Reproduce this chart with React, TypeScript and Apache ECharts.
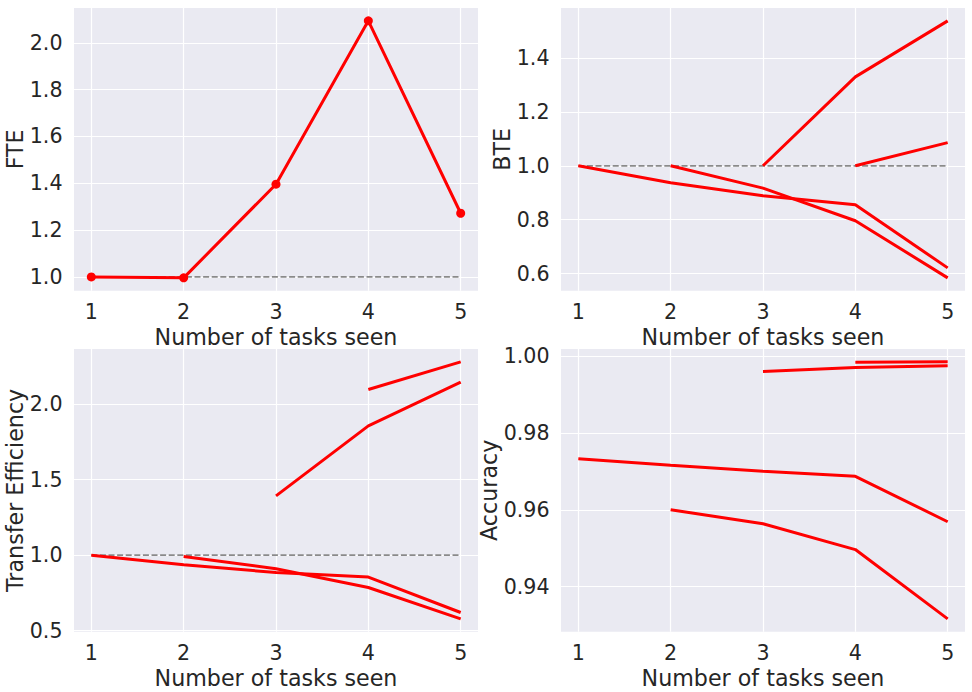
import React, { useEffect, useRef } from "react";
import * as echarts from "echarts";

const tasks = [1, 2, 3, 4, 5];
const fte = [1.0, 0.996, 1.396, 2.094, 1.272];
const bte = [
  [1.0, 0.937, 0.889, 0.855, 0.621],
  [1.0, 0.917, 0.796, 0.584],
  [1.0, 1.33, 1.538],
  [1.0, 1.086],
];
const te = [
  [1.0, 0.936, 0.885, 0.855, 0.62],
  [0.991, 0.91, 0.786, 0.578],
  [1.393, 1.857, 2.147],
  [2.098, 2.281],
];
const acc = [
  [0.97327, 0.97154, 0.96999, 0.9687, 0.95688],
  [0.96, 0.95638, 0.94965, 0.93164],
  [0.99594, 0.99698, 0.99741],
  [0.99837, 0.99845],
];
const fteTicks = [1.0, 1.2, 1.4, 1.6, 1.8, 2.0];
const bteTicks = [0.6, 0.8, 1.0, 1.2, 1.4];
const teTicks = [0.5, 1.0, 1.5, 2.0];
const accTicks = [0.94, 0.96, 0.98, 1.0];
const baselineValue = 1.0;
const xTitle = "Number of tasks seen";
const yTitles = ["FTE", "BTE", "Transfer Efficiency", "Accuracy"];

const TEXT = "#262626";
const FONT = "DejaVu Sans";
const TICK_FS = 20.6;
const NAME_FS = 22.2;

function toPairs(vals: number[], start: number) {
  return vals.map((v, i) => [tasks[start + i], v]);
}

export default function App() {
  const ref = useRef<HTMLDivElement>(null);
  useEffect(() => {
    document.body.style.margin = "0";
    const chart = echarts.init(ref.current!, undefined, { renderer: "svg" });

    const panels = [
      { groups: [fte], ticks: fteTicks, dec: 1, base: true, markers: true },
      { groups: bte, ticks: bteTicks, dec: 1, base: true, markers: false },
      { groups: te, ticks: teTicks, dec: 1, base: true, markers: false },
      { groups: acc, ticks: accTicks, dec: 2, base: false, markers: false },
    ];
    const grids = [
      { left: 74, top: 8, width: 404, height: 282.7 },
      { left: 561, top: 8, width: 404, height: 282.7 },
      { left: 74, top: 349, width: 404, height: 282.7 },
      { left: 561, top: 349, width: 404, height: 282.7 },
    ];
    const yNameGap = [43, 43, 43, 60];

    const xAxis: any[] = [];
    const yAxis: any[] = [];
    const series: any[] = [];

    panels.forEach((p, i) => {
      const all = p.groups.flat();
      const lo = Math.min(...all, p.base ? baselineValue : Infinity);
      const hi = Math.max(...all, p.base ? baselineValue : -Infinity);
      const pad = (hi - lo) * 0.05;
      const tmin = tasks[0];
      const tmax = tasks[tasks.length - 1];
      const xpad = (tmax - tmin) * 0.046875;
      xAxis.push({
        type: "value",
        gridIndex: i,
        min: tmin - xpad,
        max: tmax + xpad,
        name: xTitle,
        nameLocation: "middle",
        nameGap: 35,
        nameTextStyle: { color: TEXT, fontSize: NAME_FS, fontFamily: FONT, lineHeight: 22 },
        axisLine: { show: false },
        axisTick: { show: false, customValues: tasks },
        axisLabel: {
          customValues: tasks,
          color: TEXT,
          fontSize: TICK_FS,
          fontFamily: FONT,
          lineHeight: 20,
          margin: 11,
          formatter: (v: number) => String(v),
        },
        splitLine: { show: true, lineStyle: { color: "#ffffff", width: 1.2 } },
      });
      yAxis.push({
        type: "value",
        gridIndex: i,
        min: lo - pad,
        max: hi + pad,
        name: yTitles[i],
        nameLocation: "middle",
        nameGap: yNameGap[i],
        nameTextStyle: { color: TEXT, fontSize: NAME_FS, fontFamily: FONT },
        axisLine: { show: false },
        axisTick: { show: false, customValues: p.ticks },
        axisLabel: {
          customValues: p.ticks,
          color: TEXT,
          fontSize: TICK_FS,
          fontFamily: FONT,
          margin: 11.5,
          formatter: (v: number) => v.toFixed(p.dec),
        },
        splitLine: { show: true, lineStyle: { color: "#ffffff", width: 1.2 } },
      });
      if (p.base) {
        series.push({
          type: "line",
          xAxisIndex: i,
          yAxisIndex: i,
          data: [
            [tasks[0], baselineValue],
            [tasks[tasks.length - 1], baselineValue],
          ],
          showSymbol: false,
          silent: true,
          lineStyle: { color: "#8a8a8a", width: 1.7, type: [6, 2.6] },
          z: 1,
        });
      }
      p.groups.forEach((g, k) => {
        series.push({
          type: "line",
          xAxisIndex: i,
          yAxisIndex: i,
          data: toPairs(g, k),
          showSymbol: p.markers,
          symbol: "circle",
          symbolSize: 9,
          itemStyle: { color: "#ff0000" },
          lineStyle: { color: "#ff0000", width: 3 },
          z: 2,
        });
      });
    });

    chart.setOption({
      animation: false,
      backgroundColor: "#ffffff",
      grid: grids.map((g) => ({
        ...g,
        show: true,
        backgroundColor: "#EAEAF2",
        borderWidth: 0,
        containLabel: false,
      })),
      xAxis,
      yAxis,
      series,
    });
    return () => chart.dispose();
  }, []);
  return <div ref={ref} style={{ width: 972, height: 692 }} />;
}
